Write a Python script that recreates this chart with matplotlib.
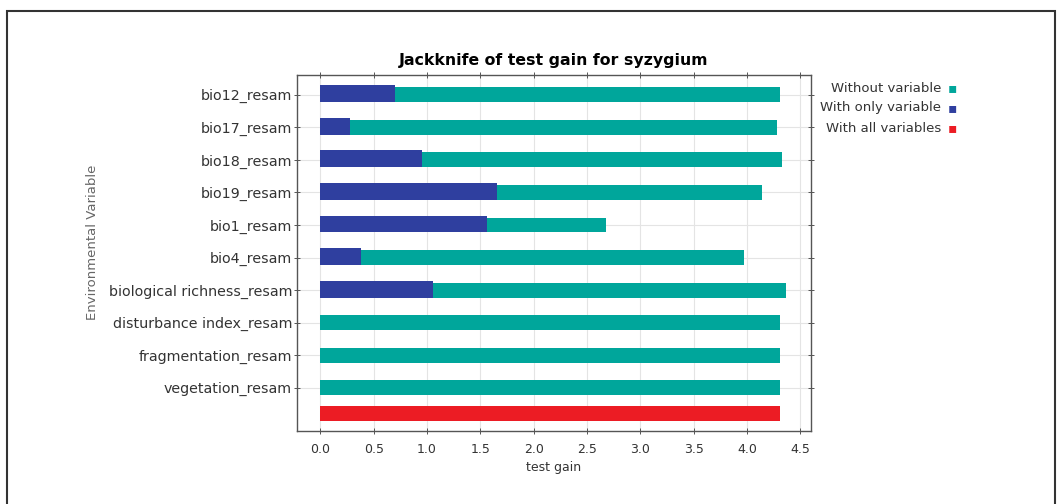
import matplotlib
matplotlib.use('Agg')

import numpy as np
import matplotlib.pyplot as plt
from matplotlib.patches import Rectangle

# -------------------
# Jackknife data
# -------------------
variables = ['bio12_resam', 'bio17_resam', 'bio18_resam', 'bio19_resam',
             'bio1_resam', 'bio4_resam', 'biological richness_resam',
             'disturbance index_resam', 'fragmentation_resam', 'vegetation_resam']
without_var = [4.31, 4.28, 4.33, 4.14, 2.68, 3.97, 4.37, 4.31, 4.31, 4.31]
only_var = [0.70, 0.28, 0.95, 1.66, 1.56, 0.38, 1.06, 0.0, 0.0, 0.0]
all_vars = 4.31

teal = '#00A69B'
blue = '#2F3F9F'
red = '#EC1C24'

fig = plt.figure(figsize=(10.64, 5.04), dpi=100)
ax = fig.add_axes([297 / 1064, 1 - 431 / 504, (811 - 297) / 1064, (431 - 75) / 504])

y = np.arange(len(variables))
ax.barh(y, without_var, height=0.46, color=teal, zorder=3)
ax.barh(y - 0.03, only_var, height=0.52, color=blue, zorder=4)
ax.barh(len(variables) - 0.2, all_vars, height=0.46, color=red, zorder=3)

ax.set_xlim(-0.22, 4.6)
ax.set_ylim(10.33, -0.61)
ax.set_xticks(np.arange(0, 4.51, 0.5))
ax.set_xticklabels([f'{v:.1f}' for v in np.arange(0, 4.51, 0.5)])
ax.set_yticks(y)
ax.set_yticklabels(variables)
ax.grid(True, color='#e4e4e4', linewidth=0.8, zorder=0)
ax.tick_params(axis='both', direction='inout', length=5, width=0.7,
               top=True, right=True, labelcolor='#333333', colors='#555555')
ax.tick_params(axis='x', pad=6, labelsize=9)
ax.tick_params(axis='y', pad=1, labelsize=10.3)
for s in ax.spines.values():
    s.set_color('#555555')
    s.set_linewidth(1.0)

ax.set_xlabel('test gain', fontsize=9, color='#333333', labelpad=4)
ax.set_title('Jackknife of test gain for syzygium', fontsize=11.3, fontweight='bold', pad=7)
fig.text(92 / 1064, 1 - 242 / 504, 'Environmental Variable', rotation=90,
         ha='center', va='center', fontsize=9.5, color='#666666')

# legend on the right
legend_items = [('Without variable', teal), ('With only variable', blue),
                ('With all variables', red)]
for i, (lab, col) in enumerate(legend_items):
    yy = 1 - (88 + i * 20) / 504
    fig.text(941 / 1064, yy, lab, ha='right', va='center', fontsize=9.5, color='#333333')
    fig.text(952 / 1064, yy, '\u25aa', ha='center', va='center', fontsize=10, color=col)

# outer frame
fig.add_artist(Rectangle((7 / 1064, -0.05), (1055 - 7) / 1064, 1.05 - 11 / 504,
                         transform=fig.transFigure, fill=False,
                         edgecolor='#333333', linewidth=1.5))

fig.savefig('out.png', dpi=100)
